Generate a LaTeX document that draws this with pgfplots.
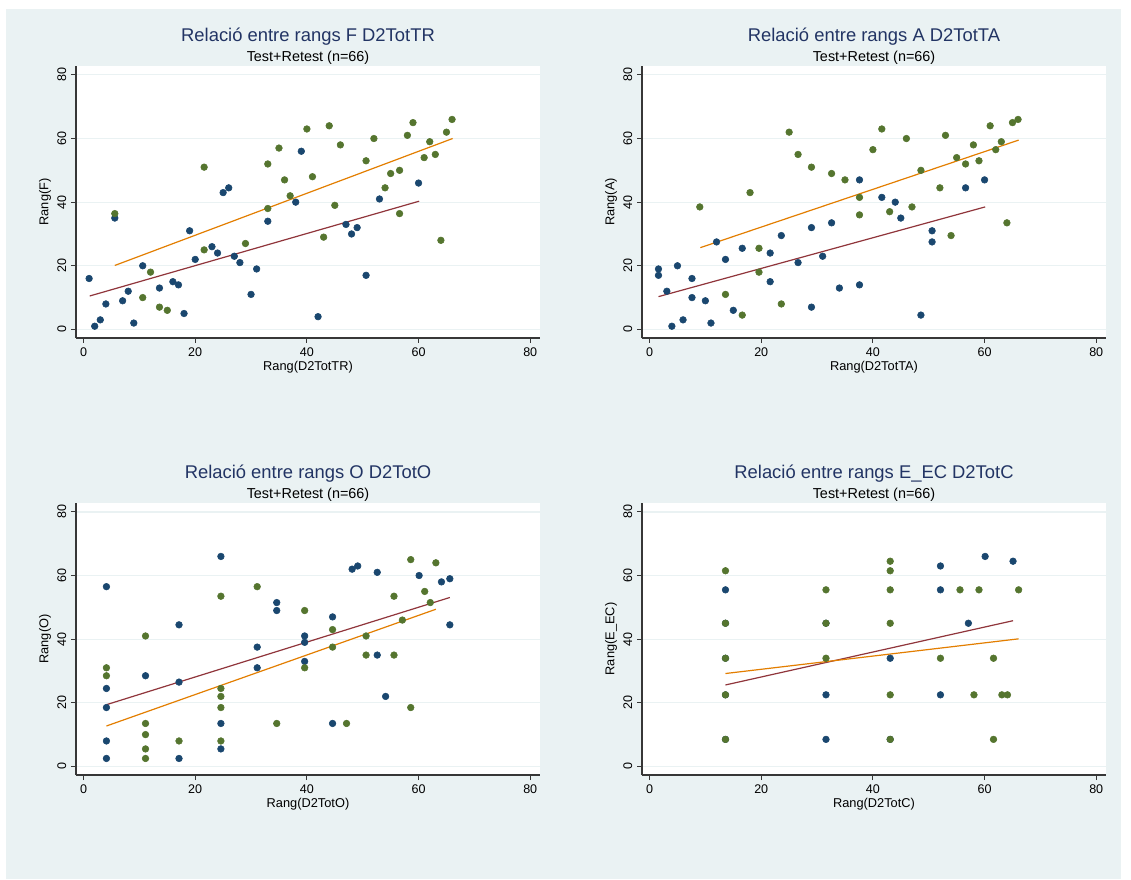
\documentclass[border=0pt]{standalone}
\usepackage{fontspec}
\setmainfont{Liberation Sans}
\usepackage{pgfplots}
\pgfplotsset{compat=1.18}
\definecolor{bgc}{RGB}{234,242,243}
\definecolor{navy}{RGB}{26,71,111}
\definecolor{fgreen}{RGB}{85,117,47}
\definecolor{maroon}{RGB}{144,53,59}
\definecolor{dkorange}{RGB}{227,126,0}
\definecolor{ttl}{RGB}{34,52,100}
\definecolor{axc}{RGB}{55,55,55}
\pgfplotsset{panel/.style={
  scale only axis, width=348pt, height=204pt,
  xmin=-1.35, xmax=81.75, ymin=-2.7, ymax=82.8,
  xtick={0,20,40,60,80}, ytick={0,20,40,60,80},
  axis x line*=bottom, axis y line*=left,
  axis line style={axc, line width=0.9pt},
  tick align=outside, major tick length=3.75pt,
  every tick/.append style={axc, line width=0.8pt},
  axis background/.style={fill=white},
  ymajorgrids, grid style={bgc, line width=0.9pt},
  tick label style={font=\fontsize{9.4}{11}\selectfont, text=black},
  /pgf/number format/assume math mode=true,
  yticklabel style={rotate=90, anchor=south},
  label style={font=\fontsize{9.6}{11}\selectfont, text=black},
  xlabel style={at={([yshift=-21.75pt]axis description cs:0.5,0)}, anchor=center},
  ylabel style={at={([xshift=-23.25pt]axis description cs:0,0.5)}, anchor=center},
  clip=false
}}
\pgfplotsset{navyp/.style={only marks, mark=*, mark size=2.5pt, navy, mark options={draw=navy, fill=navy}},
  greenp/.style={only marks, mark=*, mark size=2.5pt, fgreen, mark options={draw=fgreen, fill=fgreen}},
  fitA/.style={maroon, line width=0.9pt, no marks},
  fitB/.style={dkorange, line width=0.9pt, no marks}}
\newcommand{\ttlfont}{\fontsize{13.8}{16}\selectfont\color{ttl}}
\newcommand{\subfont}{\fontsize{10.8}{13}\selectfont}
\begin{document}
\begin{tikzpicture}
\path (0,0) rectangle (848.25pt,659.25pt);
\fill[bgc] (4.5pt,0pt) rectangle (840.75pt,652.5pt);
% titles
\node[anchor=base] at (231pt,627.75pt) {\ttlfont Relació entre rangs F D2TotTR};
\node[anchor=base] at (231pt,612.75pt) {\subfont Test+Retest (n=66)};
\node[anchor=base] at (655.5pt,627.75pt) {\ttlfont Relació entre rangs A D2TotTA};
\node[anchor=base] at (655.5pt,612.75pt) {\subfont Test+Retest (n=66)};
\node[anchor=base] at (231pt,300pt) {\ttlfont Relació entre rangs O D2TotO};
\node[anchor=base] at (231pt,285pt) {\subfont Test+Retest (n=66)};
\node[anchor=base] at (655.5pt,300pt) {\ttlfont Relació entre rangs E\_EC D2TotC};
\node[anchor=base] at (655.5pt,285pt) {\subfont Test+Retest (n=66)};

% panel F
\begin{axis}[panel, at={(57pt,405.75pt)}, xlabel={Rang(D2TotTR)}, ylabel={Rang(F)}]
\addplot[navyp] coordinates {(1,16)(2,1)(3,3)(4,8)(5.6,35)(7,9)(8,12)(9,2)(10.6,20)(13.6,13)
 (16,15)(17,14)(18,5)(19,31)(20,22)(23,26)(24,24)(25,43)(26,44.5)(27,23)(28,21)(30,11)(31,19)
 (33,34)(38,40)(39,56)(42,4)(47,33)(48,30)(49,32)(50.6,17)(53,41)(60,46)};
\addplot[greenp] coordinates {(5.6,36.4)(10.6,10)(12,18)(13.6,7)(15,6)(21.6,51)(21.6,25)(29,27)
 (33,52)(33,38)(35,57)(36,47)(37,42)(40,63)(41,48)(43,29)(44,64)(45,39)(46,58)(50.6,53)(52,60)
 (54,44.5)(55,49)(56.6,50)(56.6,36.4)(58,61)(59,65)(61,54)(62,59)(63,55)(64,28)(65,62)(66,66)};
\addplot[fitA] coordinates {(1.1,10.5)(60.1,40.3)};
\addplot[fitB] coordinates {(5.6,20.1)(66.1,60)};
\end{axis}

% panel A
\begin{axis}[panel, at={(481.5pt,405.75pt)}, xlabel={Rang(D2TotTA)}, ylabel={Rang(A)}]
\addplot[navyp] coordinates {(1.6,19)(1.6,17)(3.1,12)(4,1)(5,20)(6,3)(7.6,16)(7.6,10)(10,9)(11,2)
 (12,27.5)(13.6,22)(15,6)(16.6,25.5)(21.6,24)(21.6,15)(23.6,29.5)(26.6,21)(29,32)(29,7)(31,23)
 (32.6,33.5)(34,13)(37.6,47)(37.6,14)(41.6,41.5)(44,40)(45,35)(48.6,4.5)(50.6,31)(50.6,27.5)
 (56.6,44.5)(60,47)};
\addplot[greenp] coordinates {(9,38.5)(13.6,11)(16.6,4.5)(18,43)(19.6,25.5)(19.6,18)(23.6,8)(25,62)
 (26.6,55)(29,51)(32.6,49)(35,47)(37.6,41.5)(37.6,36)(40,56.5)(41.6,63)(43,37)(46,60)(47,38.5)
 (48.6,50)(52,44.5)(53,61)(54,29.5)(55,54)(56.6,52)(58,58)(59,53)(61,64)(62,56.5)(63,59)(64,33.5)
 (65,65)(66,66)};
\addplot[fitA] coordinates {(1.6,10.3)(60.1,38.5)};
\addplot[fitB] coordinates {(9.1,25.7)(66.1,59.5)};
\end{axis}

% panel O
\begin{axis}[panel, at={(57pt,78pt)}, xlabel={Rang(D2TotO)}, ylabel={Rang(O)}]
\addplot[navyp] coordinates {(4.1,56.5)(4.1,24.5)(4.1,18.5)(4.1,8)(4.1,2.5)(11.1,28.5)(17.1,44.5)
 (17.1,26.5)(17.1,2.5)(24.6,66)(24.6,13.5)(24.6,5.5)(31.1,37.5)(31.1,31)(34.6,51.5)(34.6,49)
 (39.6,41)(39.6,39)(39.6,33)(44.6,47)(44.6,13.5)(48.1,62)(49.1,63)(52.6,61)(52.6,35)(54.1,22)
 (60.1,60)(64.1,58)(65.6,59)(65.6,44.5)};
\addplot[greenp] coordinates {(4.1,31)(4.1,28.5)(11.1,41)(11.1,13.5)(11.1,10)(11.1,5.5)(11.1,2.5)
 (17.1,8)(24.6,53.5)(24.6,24.5)(24.6,22)(24.6,18.5)(24.6,8)(31.1,56.5)(34.6,13.5)(39.6,49)(39.6,31)
 (44.6,43)(44.6,37.5)(47.1,13.5)(50.6,41)(50.6,35)(55.6,53.5)(55.6,35)(57.1,46)(58.6,65)(58.6,18.5)
 (61.1,55)(62.1,51.5)(63.1,64)};
\addplot[fitA] coordinates {(4.1,19.4)(65.6,53.1)};
\addplot[fitB] coordinates {(4.1,12.7)(63.1,49.4)};
\end{axis}

% panel E_EC
\begin{axis}[panel, at={(481.5pt,78pt)}, xlabel={Rang(D2TotC)}, ylabel={Rang(E\_EC)}]
\addplot[navyp] coordinates {(13.6,55.5)(13.6,45)(13.6,34)(13.6,22.5)(13.6,8.5)(31.6,45)(31.6,22.5)
 (31.6,8.5)(43.1,34)(43.1,8.5)(52.1,63)(52.1,55.5)(52.1,22.5)(57.1,45)(60.1,66)(65.1,64.5)};
\addplot[greenp] coordinates {(13.6,61.5)(13.6,45)(13.6,34)(13.6,22.5)(13.6,8.5)(31.6,55.5)(31.6,45)
 (31.6,34)(43.1,64.5)(43.1,61.5)(43.1,55.5)(43.1,45)(43.1,22.5)(43.1,8.5)(52.1,34)(55.6,55.5)
 (59,55.5)(58.1,22.5)(61.6,34)(61.6,8.5)(63.1,22.5)(64.1,22.5)(66.1,55.5)};
\addplot[fitA] coordinates {(13.6,25.6)(65.1,45.8)};
\addplot[fitB] coordinates {(13.6,29.2)(66.1,40.1)};
\end{axis}
\end{tikzpicture}
\end{document}
